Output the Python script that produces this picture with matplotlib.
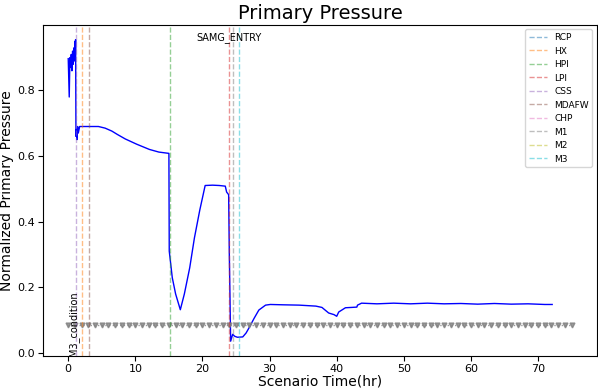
import matplotlib
matplotlib.use("Agg")
import matplotlib.pyplot as plt
from matplotlib.lines import Line2D

# 시나리오 시간(hr) / 정규화 1차측 압력
time_hr = [0.0, 0.15, 0.25, 0.35, 0.45, 0.55, 0.65, 0.75, 0.85, 0.95, 1.0, 1.05, 1.1,
           1.15, 1.2, 1.3, 1.4, 1.5, 1.7, 2.0, 3.0, 4.5, 5.5, 6.5, 7.3, 8.5, 10.2, 12.1,
           13.5, 15.0, 15.05, 15.5, 16.0, 16.7, 17.3, 18.1, 18.8, 19.6, 20.4, 21.5,
           22.5, 23.4, 23.6, 23.9, 24.0, 24.2, 24.5, 24.8, 25.2, 26.0, 26.5, 27.0,
           27.7, 28.4, 29.4, 30.1, 32.0, 34.4, 36.9, 37.8, 38.8, 39.6, 40.0, 40.3,
           41.3, 42.2, 43.0, 43.1, 43.7, 46.0, 48.5, 51.0, 53.5, 56.0, 58.5, 61.0,
           63.5, 66.0, 68.5, 71.0, 72.1]
pressure = [0.897, 0.78, 0.90, 0.87, 0.91, 0.86, 0.92, 0.88, 0.93, 0.89, 0.95, 0.90, 0.955,
            0.66, 0.68, 0.65, 0.69, 0.67, 0.69, 0.69, 0.69, 0.69, 0.685, 0.676, 0.666, 0.652,
            0.636, 0.62, 0.612, 0.608, 0.31, 0.229, 0.179, 0.131, 0.179, 0.259, 0.35, 0.435,
            0.51, 0.511, 0.51, 0.508, 0.49, 0.482, 0.30, 0.035, 0.056, 0.05, 0.047, 0.048,
            0.06, 0.078, 0.105, 0.13, 0.145, 0.147, 0.146, 0.145, 0.142, 0.138, 0.121,
            0.116, 0.111, 0.124, 0.137, 0.138, 0.139, 0.145, 0.151, 0.149, 0.151, 0.149,
            0.151, 0.149, 0.150, 0.148, 0.150, 0.148, 0.149, 0.147, 0.147]

# 조건선 (M3_condition)
cond_time = list(range(0, 76))
cond_value = 0.085

# 이벤트 발생 시각 (None = 발생하지 않음)
event_names = ["RCP", "HX", "HPI", "LPI", "CSS", "MDAFW", "CHP", "M1", "M2", "M3"]
event_times = [None, 2.1, 15.1, 23.9, 1.1, 3.1, None, 24.5, None, 25.5]
event_colors = ["tab:blue", "tab:orange", "tab:green", "tab:red", "tab:purple",
                "tab:brown", "tab:pink", "tab:gray", "tab:olive", "tab:cyan"]

samg_time = 23.9

fig = plt.figure(figsize=(5.98, 3.89), dpi=100)
ax = fig.add_axes([0.072, 0.085, 0.926, 0.851])

ax.plot(time_hr, pressure, color="blue", linewidth=1.0)
ax.plot(cond_time, [cond_value] * len(cond_time), color="gray", linestyle=":",
        marker="v", markersize=3.5, linewidth=1.0, alpha=0.8)

handles = []
for name, t, c in zip(event_names, event_times, event_colors):
    if t is not None:
        ax.axvline(t, color=c, linestyle="--", linewidth=1.0, alpha=0.5)
    handles.append(Line2D([], [], color=c, linestyle="--", linewidth=1.0, alpha=0.5, label=name))

ax.text(samg_time, 0.96, "SAMG_ENTRY", ha="center", va="center", fontsize=7)
ax.text(0, 0, "M3_condition", rotation=90, fontsize=7, va="baseline")

ax.set_xlim(-3.75, 78.75)
ax.set_ylim(-0.01, 1.0)
ax.set_yticks([0.0, 0.2, 0.4, 0.6, 0.8])
ax.tick_params(labelsize=8, pad=2.5)
ax.set_title("Primary Pressure", fontsize=14, pad=4)
ax.set_xlabel("Scenario Time(hr)", fontsize=10, labelpad=0)
ax.set_ylabel("Normalized Primary Pressure", fontsize=10, labelpad=2)
ax.legend(handles=handles, loc="upper right", fontsize=6.5)

fig.savefig("out.png", dpi=100)
